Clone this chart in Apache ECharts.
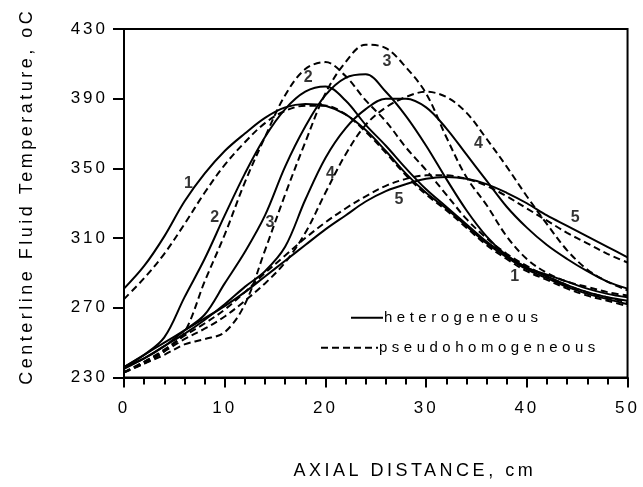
<!DOCTYPE html>
<html>
<head>
<meta charset="utf-8">
<script src="https://cdn.jsdelivr.net/npm/echarts@6/dist/echarts.min.js"></script>
<style>
  html, body { margin: 0; padding: 0; background: #fff; }
  #chart { width: 643px; height: 487px; }
</style>
</head>
<body>
<div id="chart"></div>
<script>
// Axial positions (cm) at which the temperature profiles are tabulated
const axialCm = [0, 2, 4, 6, 8, 10, 12, 14, 16, 18, 20, 22, 24, 26, 28, 30, 32, 34, 36, 38, 40, 42, 44, 46, 48, 50];

// Centerline fluid temperature (deg C), heterogeneous model, cases 1-5
const het1 = [281, 294, 311, 331, 347, 360, 370, 379, 385, 387, 386, 381, 372, 360, 347, 336, 327, 317, 307, 299, 292, 287, 282, 278, 275, 272];
const het2 = [236, 243, 253, 276, 298, 323, 347, 368, 384, 394, 397, 389, 375, 363, 350, 338, 328, 318, 308, 300, 293, 288, 283, 279, 276, 274];
const het3 = [236, 241, 248, 257, 266, 284, 302, 323, 351, 374, 392, 402, 404, 394, 380, 363, 344, 326, 311, 300, 293, 289, 285, 281, 278, 276];
const het4 = [235, 241, 248, 255, 263, 272, 282, 291, 305, 332, 356, 373, 384, 390, 390, 385, 373, 358, 343, 328, 316, 306, 298, 291, 285, 281];
const het5 = [236, 243, 250, 257, 264, 271, 279, 288, 297, 306, 315, 323, 331, 337, 341, 344, 345, 344, 341, 336, 330, 323, 317, 311, 305, 299];

// Same cases, pseudohomogeneous model
const pse1 = [275, 287, 301, 318, 336, 352, 365, 376, 383, 386, 386, 381, 371, 359, 346, 335, 326, 316, 306, 298, 291, 286, 281, 277, 274, 271];
const pse2 = [233, 238, 245, 256, 285, 312, 342, 368, 392, 407, 411, 403, 389, 377, 362, 349, 335, 321, 310, 301, 294, 288, 283, 279, 276, 273];
const pse3 = [233, 238, 243, 249, 252, 256, 272, 303, 335, 365, 393, 411, 421, 419, 408, 393, 368, 345, 329, 311, 298, 290, 285, 282, 279, 277];
const pse4 = [233, 239, 245, 252, 258, 265, 274, 284, 296, 313, 336, 358, 375, 385, 391, 394, 391, 382, 367, 351, 334, 318, 303, 292, 285, 280];
const pse5 = [233, 239, 246, 254, 261, 269, 279, 290, 300, 310, 319, 327, 334, 340, 344, 346, 346, 344, 340, 334, 327, 320, 313, 307, 301, 296];

// Case numbers written beside the curves: [axial cm, temperature, text]
const caseTags = [
  [6.4, 341, '1'], [38.8, 288, '1'],
  [9.0, 322, '2'], [18.3, 402, '2'],
  [14.5, 319, '3'], [26.1, 411.5, '3'],
  [20.5, 347, '4'], [35.2, 364, '4'],
  [27.3, 332, '5'], [44.8, 322, '5']
];

// Axis tick values
const xTicks = [0, 10, 20, 30, 40, 50];
const yTicks = [230, 270, 310, 350, 390, 430];

// Letter-spaced lettering: canvas tracking chosen by font size
const TRACKING = { '17px': '3px', '18px': '3.5px', '15px': '4.5px' };
(function () {
  const proto = CanvasRenderingContext2D.prototype;
  ['fillText', 'strokeText', 'measureText'].forEach(function (fn) {
    const orig = proto[fn];
    proto[fn] = function () {
      const m = /(\d+(?:\.\d+)?px)/.exec(this.font || '');
      const t = (m && TRACKING[m[1]]) || '0px';
      if ('letterSpacing' in this && this.letterSpacing !== t) this.letterSpacing = t;
      return orig.apply(this, arguments);
    };
  });
})();

const FONT = 'Liberation Sans';
const pairs = vals => axialCm.map((x, i) => [x, vals[i]]);

function curve(name, vals, dashed) {
  return {
    type: 'line',
    name: name,
    data: pairs(vals),
    smooth: 0.35,
    symbol: 'none',
    lineStyle: { color: '#000', width: 2, type: dashed ? [7, 4] : 'solid' },
    itemStyle: { color: '#000' },
    emphasis: { disabled: true },
    z: 3
  };
}

function legendFor(name, left, top, width) {
  return {
    data: [name],
    left: left, top: top,
    padding: 0,
    itemWidth: width, itemHeight: 14, itemGap: 0,
    selectedMode: false,
    itemStyle: { opacity: 0 },
    textStyle: { fontFamily: FONT, fontSize: 15, color: '#000', padding: [0, 0, 10, -4] }
  };
}

const chart = echarts.init(document.getElementById('chart'), null, { renderer: 'canvas' });

chart.setOption({
  animation: false,
  backgroundColor: '#fff',
  grid: {
    left: 124, right: 3, top: 29, bottom: 100,
    show: true, borderColor: '#000', borderWidth: 2, backgroundColor: 'transparent'
  },
  legend: [
    legendFor('heterogeneous', 350, 308, 32),
    legendFor('pseudohomogeneous', 320, 338, 57)
  ],
  xAxis: {
    type: 'value',
    min: xTicks[0], max: xTicks[xTicks.length - 1], interval: 10,
    name: 'AXIAL DISTANCE, cm',
    nameLocation: 'middle',
    nameGap: 83,
    nameTextStyle: { fontFamily: FONT, fontSize: 18, color: '#000', padding: [0, 0, 0, 78] },
    axisLine: { show: true, lineStyle: { color: '#000', width: 2 } },
    axisTick: { show: true, inside: false, length: 10, lineStyle: { color: '#000', width: 2 } },
    minorTick: { show: true, splitNumber: 5, length: 7, lineStyle: { color: '#000', width: 2 } },
    axisLabel: { margin: 21, fontFamily: FONT, fontSize: 17, color: '#000' },
    splitLine: { show: false }
  },
  yAxis: {
    type: 'value',
    min: yTicks[0], max: yTicks[yTicks.length - 1], interval: 40,
    name: 'Centerline Fluid Temperature, oC',
    nameLocation: 'middle',
    nameRotate: 90,
    nameGap: 86,
    nameTextStyle: { fontFamily: FONT, fontSize: 18, color: '#000', padding: [0, 0, 0, 14] },
    axisLine: { show: true, lineStyle: { color: '#000', width: 2 } },
    axisTick: { show: true, inside: false, length: 11, lineStyle: { color: '#000', width: 2 } },
    axisLabel: { margin: 16, fontFamily: FONT, fontSize: 17, color: '#000' },
    splitLine: { show: false }
  },
  series: [
    curve('heterogeneous', het1, false),
    curve('heterogeneous', het2, false),
    curve('heterogeneous', het3, false),
    curve('heterogeneous', het4, false),
    curve('heterogeneous', het5, false),
    curve('pseudohomogeneous', pse1, true),
    curve('pseudohomogeneous', pse2, true),
    curve('pseudohomogeneous', pse3, true),
    curve('pseudohomogeneous', pse4, true),
    curve('pseudohomogeneous', pse5, true),
    {
      type: 'scatter',
      name: 'case numbers',
      data: caseTags,
      symbolSize: 0,
      silent: true,
      z: 5,
      label: {
        show: true,
        position: 'inside',
        formatter: p => p.data[2],
        fontFamily: FONT, fontSize: 16, fontWeight: 'bold', color: '#000'
      }
    }
  ]
});
</script>
</body>
</html>
